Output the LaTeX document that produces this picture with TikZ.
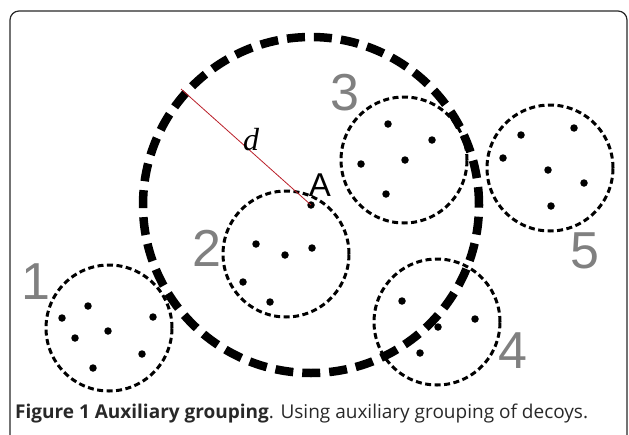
\documentclass[tikz,border=0pt]{standalone}
\usepackage{fontspec}
\setmainfont{Liberation Serif}
\setsansfont{Liberation Sans}
\newfontfamily\capfont{Open Sans}
\usetikzlibrary{calc}
\definecolor{labelgray}{RGB}{128,128,128}
\definecolor{radiusred}{RGB}{185,30,40}
\definecolor{framegray}{RGB}{40,40,40}
\tikzset{
  group/.style={draw, line width=3pt, dash pattern=on 6pt off 3.5pt},
  reach/.style={draw, line width=8.5pt, dash pattern=on 18pt off 9pt},
  decoy/.style={fill, circle, inner sep=0pt, minimum size=7.5pt},
  grouplabel/.style={text=labelgray, inner sep=0pt,
    font=\sffamily\fontsize{52}{52}\selectfont},
}

\begin{document}
\begin{tikzpicture}[x=1pt,y=-1pt]
  \useasboundingbox (0,0) rectangle (629,434);
  \clip (0,0) rectangle (629,434);
  \draw [framegray, line width=1.2pt, rounded corners=9pt] (10,11) rectangle (627,460);

  % group centres
  \coordinate (g1) at (109,328);
  \coordinate (g2) at (286,254);
  \coordinate (g3) at (404,160);
  \coordinate (g4) at (437,322);
  \coordinate (g5) at (550,168);
  \foreach \g in {1,...,5}{
    \draw [group] (g\g) circle (63pt);
  }

  % auxiliary circle round A
  \node [decoy] (A) at (311,205) {};
  \draw [reach] (A) circle (168pt);
  \coordinate (rim) at (181,89);
  \draw [radiusred, line width=0.8pt] (rim) -- (A.center);
  \node [font=\itshape\fontsize{32}{32}\selectfont, inner sep=0pt] (dlab) at (251,140) {d};
  \node [font=\sffamily\fontsize{33}{33}\selectfont, inner sep=0pt] (Alab) at (320,185) {A};

  % decoys
  \foreach \px/\py [count=\i] in {88/306,62/318,153/317,108/331,75/338,142/354,93/368}{
    \node [decoy] (one\i) at (\px,\py) {};
  }
  \foreach \px/\py [count=\i] in {256/244,285/255,312/248,243/282,270/302}{
    \node [decoy] (two\i) at (\px,\py) {};
  }
  \foreach \px/\py [count=\i] in {388/124,432/140,361/164,405/160,386/194}{
    \node [decoy] (three\i) at (\px,\py) {};
  }
  \foreach \px/\py [count=\i] in {402/301,475/319,438/327,420/353}{
    \node [decoy] (four\i) at (\px,\py) {};
  }
  \foreach \px/\py [count=\i] in {521/135,574/128,503/158,548/170,584/183,551/206}{
    \node [decoy] (five\i) at (\px,\py) {};
  }

  % group numbers
  \node [grouplabel] (n1) at (36,282) {1};
  \node [grouplabel] (n2) at (207,248) {2};
  \node [grouplabel] (n3) at (345,93) {3};
  \node [grouplabel] (n4) at (513,351) {4};
  \node [grouplabel] (n5) at (585,251) {5};

  \node [anchor=base west, inner sep=0pt, text=framegray,
    font=\capfont\fontsize{19}{21}\selectfont] (caption) at (15,418)
    {\textbf{Figure 1 Auxiliary grouping}. Using auxiliary grouping of decoys.};
\end{tikzpicture}
\end{document}
